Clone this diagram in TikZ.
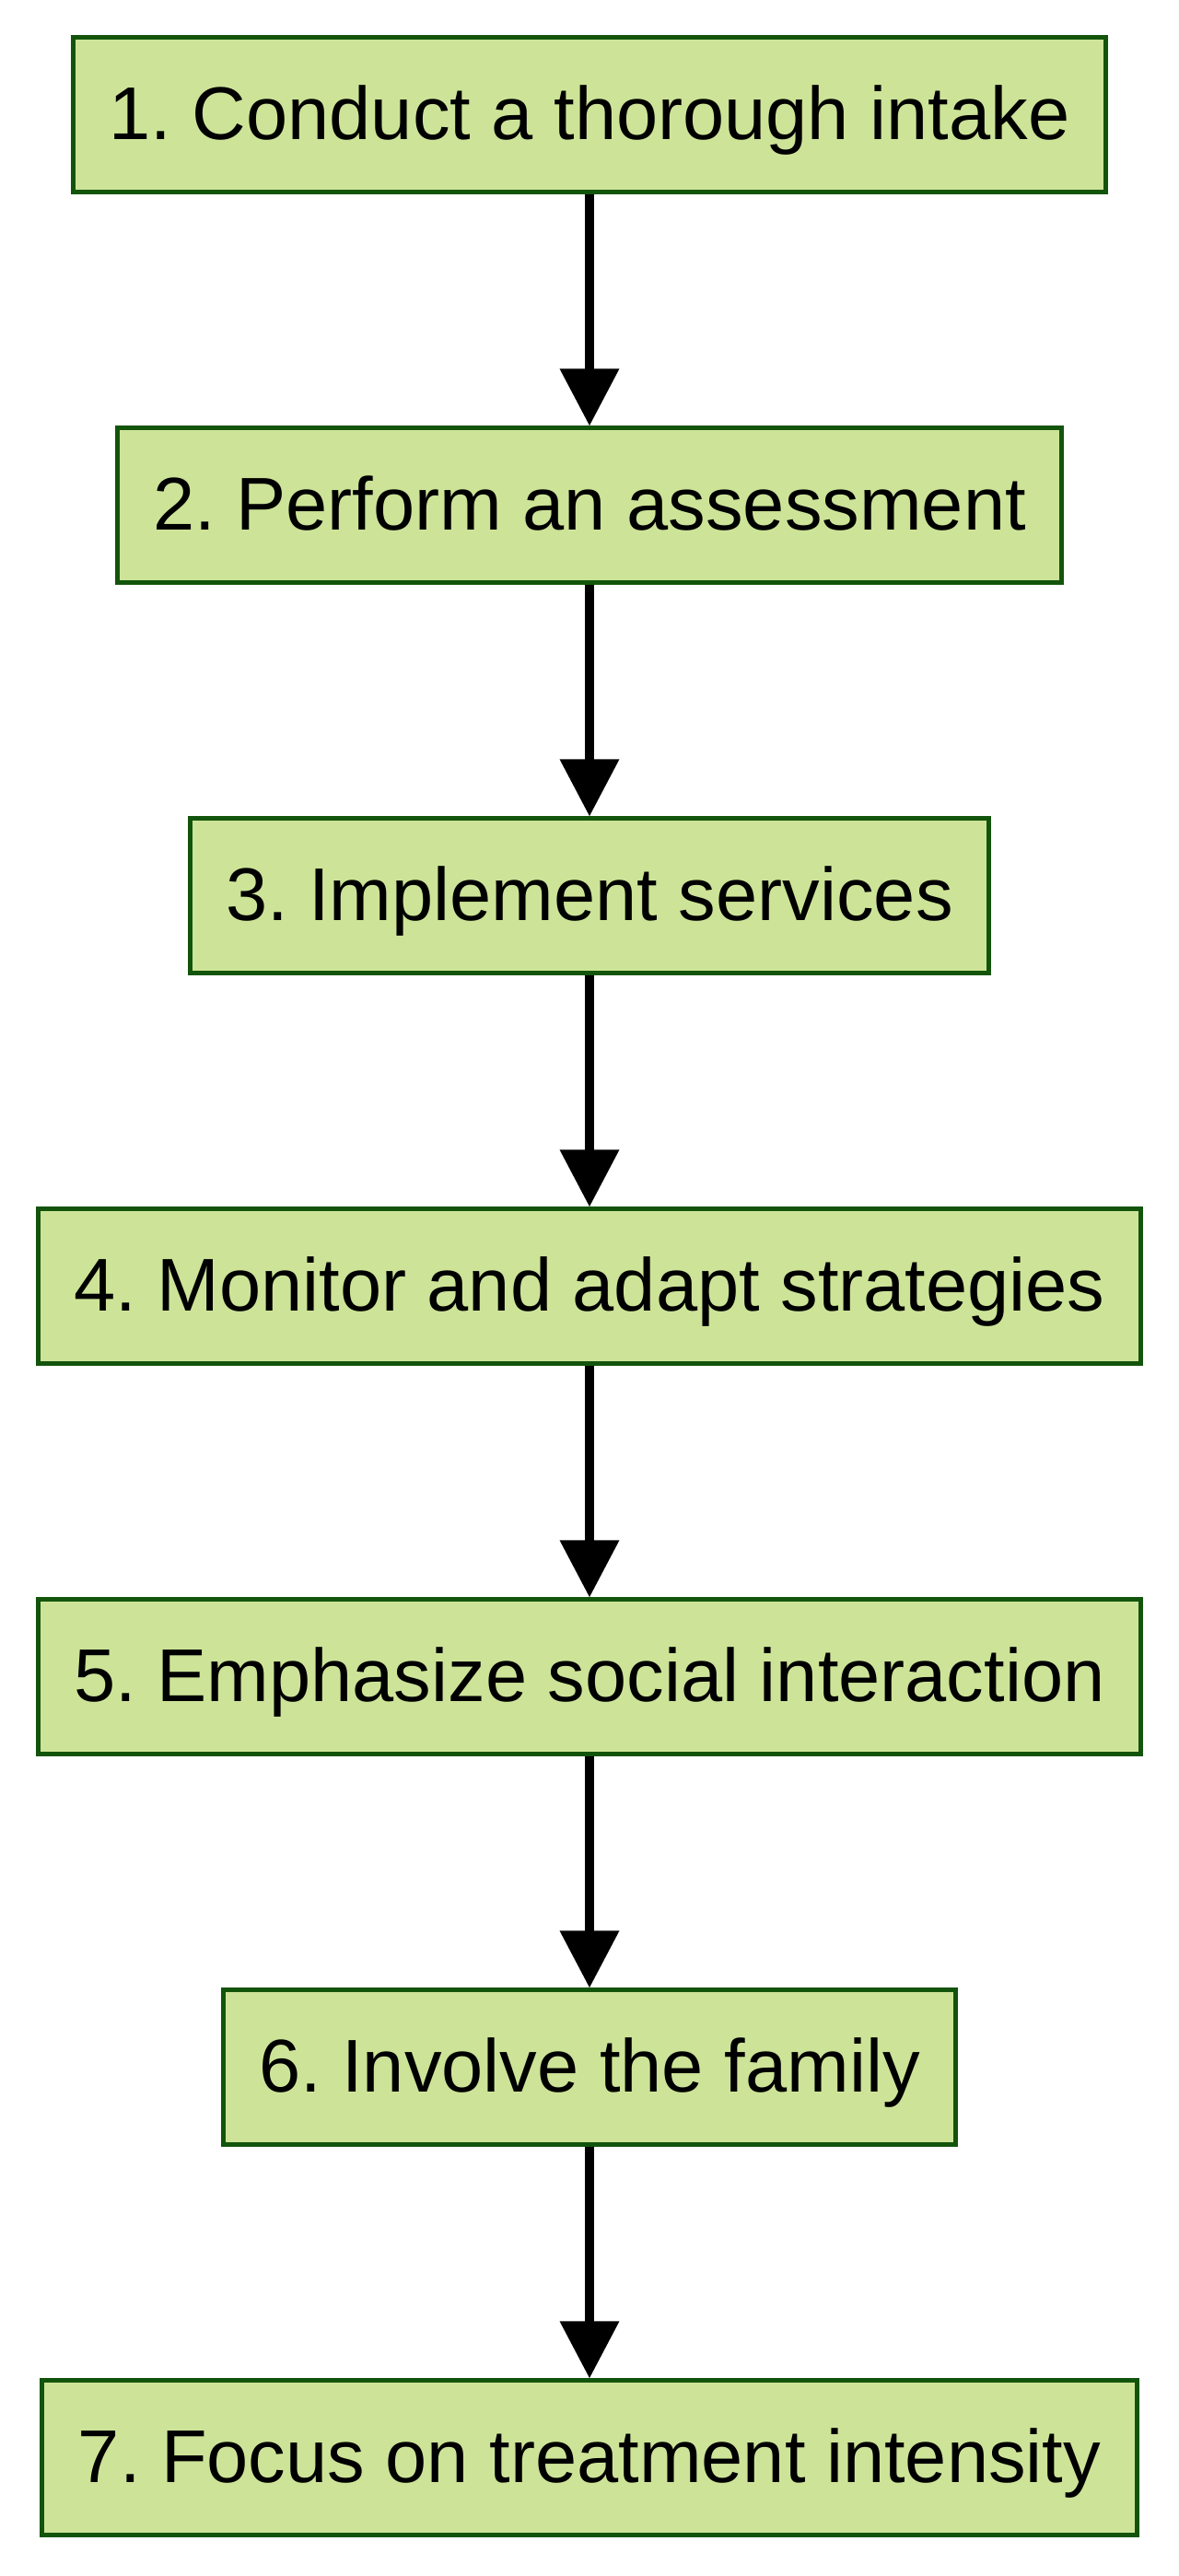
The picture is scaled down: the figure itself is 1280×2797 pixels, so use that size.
\documentclass[tikz,border=0pt]{standalone}
\usepackage{fontspec}
\setmainfont{Liberation Sans}
\usetikzlibrary{arrows.meta}
\definecolor{stagefill}{HTML}{CDE498}
\definecolor{stageline}{HTML}{13540C}
\frenchspacing
\begin{document}
\begin{tikzpicture}[x=0.5pt, y=0.5pt, node distance={212pt},
  stage/.style = {draw=stageline, fill=stagefill, line width=2.5pt, inner xsep=19.5pt, minimum height=84pt, text height=34pt, text depth=7pt, font=\fontsize{40.6pt}{48pt}\selectfont},
  link/.style = {-{Triangle[length=31pt, width=31pt]}, line width=5pt}]
\useasboundingbox (0,0) rectangle (1280,2797);
\node[stage] (1) at (640,2672) {1. Conduct a thorough intake};
\node[stage] (2) [below of=1] {2. Perform an assessment};
\node[stage] (3) [below of=2] {3. Implement services};
\node[stage] (4) [below of=3] {4. Monitor and adapt strategies};
\node[stage] (5) [below of=4] {5. Emphasize social interaction};
\node[stage] (6) [below of=5] {6. Involve the family};
\node[stage] (7) [below of=6] {7. Focus on treatment intensity};

\draw[link] (1) -- (2);
\draw[link] (2) -- (3);
\draw[link] (3) -- (4);
\draw[link] (4) -- (5);
\draw[link] (5) -- (6);
\draw[link] (6) -- (7);

\end{tikzpicture}
\end{document}
